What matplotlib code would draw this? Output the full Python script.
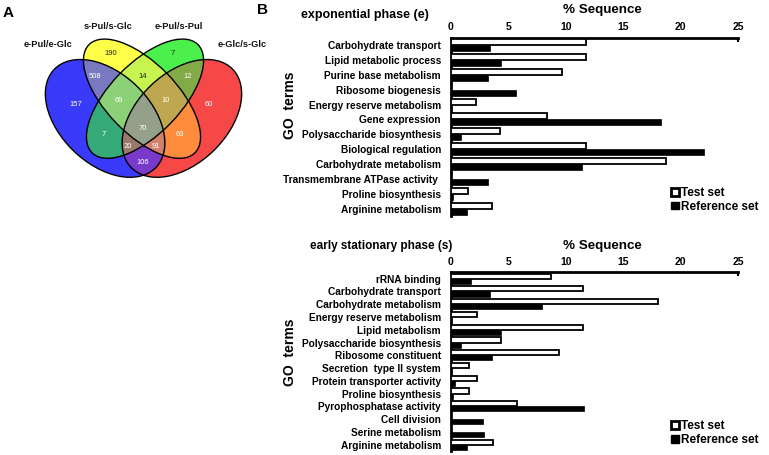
import numpy as np
import matplotlib
matplotlib.use("Agg")
import matplotlib.pyplot as plt
from matplotlib.patches import Ellipse, Patch
from matplotlib.colors import to_rgba

plt.rcParams['font.family'] = ['Liberation Sans', 'DejaVu Sans']

# ---------------- data ----------------
venn_sets = ["e-Pul/e-Glc", "s-Pul/s-Glc", "e-Pul/s-Pul", "e-Glc/s-Glc"]
venn_regions = ["A", "B", "C", "D", "AB", "BC", "CD", "ABC", "BCD",
                "ABCD", "AC", "BD", "ACD", "ABD", "AD"]
venn_counts = [157, 190, 7, 60, 508, 14, 12, 69, 10, 70, 7, 63, 20, 91, 106]

exp_terms = ["Carbohydrate transport", "Lipid metabolic process",
             "Purine base metabolism", "Ribosome biogenesis",
             "Energy reserve metabolism", "Gene expression",
             "Polysaccharide biosynthesis", "Biological regulation",
             "Carbohydrate metabolism", "Transmembrane ATPase activity ",
             "Proline biosynthesis", "Arginine metabolism"]
exp_test = [11.8, 11.8, 9.7, 0.0, 2.2, 8.4, 4.3, 11.8, 18.7, 0.0, 1.5, 3.6]
exp_ref = [3.4, 4.4, 3.2, 5.7, 0.0, 18.3, 0.9, 22.0, 11.4, 3.2, 0.2, 1.4]

stat_terms = ["rRNA binding", "Carbohydrate transport",
              "Carbohydrate metabolism", "Energy reserve metabolism",
              "Lipid metabolism", "Polysaccharide biosynthesis",
              "Ribosome constituent", "Secretion  type II system",
              "Protein transporter activity", "Proline biosynthesis",
              "Pyrophosphatase activity", "Cell division",
              "Serine metabolism", "Arginine metabolism"]
stat_test = [8.7, 11.5, 18.0, 2.3, 11.5, 4.4, 9.4, 1.6, 2.3, 1.6, 5.8, 0.0, 0.0, 3.7]
stat_ref = [1.8, 3.4, 7.9, 0.0, 4.4, 0.9, 3.6, 0.0, 0.4, 0.2, 11.6, 2.8, 2.9, 1.4]

x_ticks = [0, 5, 10, 15, 20, 25]

# ---------------- Venn layout (pixel coords, y downward) ----------------
AXIS_X = 143.5
outer = (105.1, 118.4, 141.3, 90.5, 44.0)   # cx, cy, width, height, angle
inner = (142.0, 98.7, 151.4, 70.9, 45.8)
ell = {
    "A": outer,
    "B": inner,
    "C": (2 * AXIS_X - inner[0], inner[1], inner[2], inner[3], -inner[4]),
    "D": (2 * AXIS_X - outer[0], outer[1], outer[2], outer[3], -outer[4]),
}

# ---------------- figure ----------------
W, H = 769, 455
fig = plt.figure(figsize=(W / 100, H / 100), dpi=100)

axv = fig.add_axes([0, 0, 245 / W, 1])
axv.set_xlim(0, 245)
axv.set_ylim(H, 0)
axv.axis('off')

region_colors = {
    "A": "#3a3afa", "B": "#ffff4a", "C": "#4cf04c", "D": "#f84848",
    "AB": "#7a7ac0", "AC": "#34aa78", "AD": "#7a3acc", "BC": "#c8f550",
    "BD": "#ff8c3c", "CD": "#82aa46", "ABC": "#8cd278", "ABD": "#d2806e",
    "ACD": "#9a7a6c", "BCD": "#c0a850", "ABCD": "#96a08a",
}

res = 0.25
xs = np.arange(0, 245, res) + res / 2
ys = np.arange(0, 200, res) + res / 2
X, Y = np.meshgrid(xs, ys)
inside = {}
for k, (cx, cy, w, h, ang) in ell.items():
    t = np.deg2rad(ang)
    dx, dy = X - cx, Y - cy
    u = dx * np.cos(t) + dy * np.sin(t)
    v = -dx * np.sin(t) + dy * np.cos(t)
    inside[k] = (u / (w / 2)) ** 2 + (v / (h / 2)) ** 2 <= 1
img = np.ones(X.shape + (4,))
img[..., 3] = 0
for key, col in region_colors.items():
    m = np.ones(X.shape, bool)
    for k in "ABCD":
        m &= inside[k] if k in key else ~inside[k]
    img[m] = to_rgba(col)
axv.imshow(img, extent=(0, 245, 200, 0), interpolation='bilinear', zorder=1)
for k, (cx, cy, w, h, ang) in ell.items():
    axv.add_patch(Ellipse((cx, cy), w, h, angle=ang, fill=False,
                          edgecolor='black', lw=1.0, zorder=2))

region_pos = {
    "A": (76, 104), "B": (111, 53), "C": (173, 53), "D": (209, 104),
    "AB": (95, 76), "BC": (143, 76), "CD": (188, 76), "ABC": (119, 100),
    "BCD": (166, 100), "ABCD": (143, 128), "AC": (104, 134), "BD": (180, 134),
    "ACD": (128, 146), "ABD": (156, 146), "AD": (143, 162),
}
dark_text = {"B", "C", "BC"}
for reg, cnt in zip(venn_regions, venn_counts):
    px, py = region_pos[reg]
    axv.text(px, py, str(cnt), ha='center', va='center', fontsize=5.5,
             color='#222222' if reg in dark_text else 'white', zorder=3)

label_pos = [(47.5, 44), (108, 26), (179, 26), (242, 44)]
for name, (px, py) in zip(venn_sets, label_pos):
    axv.text(px, py, name, ha='center', va='center', fontsize=6.7,
             fontweight='bold', color='#111111', zorder=3)

fig.text(8 / W, 1 - 13 / H, "A", fontsize=11, fontweight='bold',
         ha='center', va='center')
fig.text(262 / W, 1 - 10 / H, "B", fontsize=11, fontweight='bold',
         ha='center', va='center')


# ---- bar panels ----
def bar_panel(rect, terms, test, ref, phase_label, phase_x, phase_fs,
              title_y_px, phase_y_px, go_y, leg_y):
    ax = fig.add_axes(rect)
    n = len(terms)
    y = np.arange(n)
    hb = 0.40
    ax.barh(y - hb / 2, test, height=hb, color='white', edgecolor='black',
            linewidth=1.3, zorder=3)
    ax.barh(y + hb / 2, ref, height=hb, color='black', edgecolor='black',
            linewidth=0.5, zorder=3)
    ax.set_xlim(0, 25)
    ax.set_ylim(n - 0.5, -0.5)
    ax.set_yticks(y)
    ax.set_yticklabels(terms, fontsize=7.3, fontweight='bold')
    ax.set_xticks(x_ticks)
    ax.xaxis.tick_top()
    ax.tick_params(axis='x', direction='in', length=3, width=1.5,
                   labelsize=7.5, pad=4)
    for i, tk in enumerate(ax.xaxis.get_major_ticks()):
        if i != len(x_ticks) - 1:
            tk.tick2line.set_visible(False)
    for lab in ax.get_xticklabels():
        lab.set_fontweight('bold')
    ax.tick_params(axis='y', length=0, pad=7)
    for s in ('bottom', 'right'):
        ax.spines[s].set_visible(False)
    ax.spines['top'].set_linewidth(2.0)
    ax.spines['left'].set_linewidth(2.0)
    ax.set_ylabel("GO  terms", fontsize=10, fontweight='bold')
    ax.yaxis.set_label_coords(-0.534, go_y)
    handles = [Patch(facecolor='white', edgecolor='black', linewidth=2.0),
               Patch(facecolor='black', edgecolor='black')]
    ax.legend(handles, ["Test set", "Reference set"], loc='lower left',
              bbox_to_anchor=(0.763, leg_y), frameon=False,
              prop={'weight': 'bold', 'size': 8.5}, handlelength=0.65,
              handleheight=0.65, handletextpad=0.15, labelspacing=0.15,
              borderpad=0.1, borderaxespad=0)
    fig.text(602 / W, 1 - title_y_px / H, "% Sequence", fontsize=9.6,
             fontweight='bold', ha='center', va='center')
    fig.text(phase_x / W, 1 - phase_y_px / H, phase_label, fontsize=phase_fs,
             fontweight='bold', ha='left', va='center')
    return ax


left = 450.7 / W
width = (738.3 - 450.7) / W
bar_panel([left, 1 - 216 / H, width, (216 - 37.7) / H], exp_terms, exp_test,
          exp_ref, "exponential phase (e)", 301, 9.0, 9.5, 15, 0.62, 0.012)
bar_panel([left, 1 - 451 / H, width, (451 - 272.3) / H], stat_terms, stat_test,
          stat_ref, "early stationary phase (s)", 310, 8.5, 246.5, 246.5,
          0.55, 0.02)

fig.savefig("out.png", dpi=100)
